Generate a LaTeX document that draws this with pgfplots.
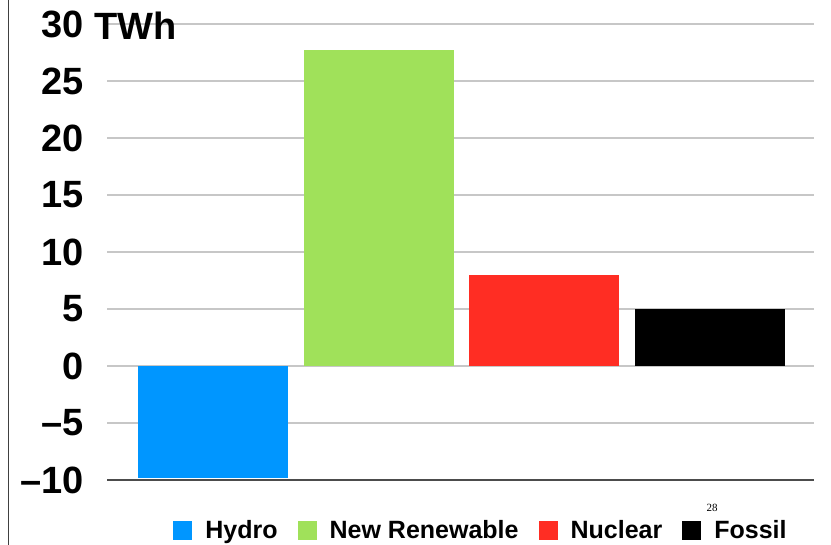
\documentclass[border=0pt]{standalone}
\usepackage{fontspec}
\setmainfont{Liberation Sans}
\newfontfamily\serif{Liberation Serif}
\usepackage{pgfplots}
\pgfplotsset{compat=1.18}
\definecolor{hydro}{RGB}{0,150,255}
\definecolor{newren}{RGB}{160,225,90}
\definecolor{nuclear}{RGB}{255,45,35}

\begin{document}
\begin{tikzpicture}
\path[use as bounding box] (0,0) rectangle (831pt,545pt);
\draw[black!75, line width=1pt] (8.5pt,0) -- (8.5pt,545pt);
\begin{axis}[
  at={(107pt,65pt)}, anchor=south west,
  scale only axis, width=707pt, height=456pt,
  xmin=-0.64, xmax=3.63, ymin=-10, ymax=30,
  axis x line*=bottom, axis y line*=left,
  x axis line style={black!70, line width=1.2pt, -},
  y axis line style={draw=none},
  xtick=\empty,
  ytick={-10,-5,...,30},
  yticklabels={–10,–5,0,5,10,15,20,25,30},
  ymajorgrids, major grid style={black!22, line width=1.2pt},
  major tick length=0pt,
  yticklabel style={font=\fontsize{38}{38}\selectfont\bfseries, inner sep=0pt, xshift=-23pt},
  ybar, bar width=150pt,
  legend columns=4,
  legend image code/.code={\fill[#1] (0pt,-9.5pt) rectangle (19pt,9.5pt);},
  legend style={at={(0.529,-0.11)}, anchor=center, draw=none, fill=none,
    font=\fontsize{25}{25}\selectfont\bfseries,
    /tikz/every odd column/.append style={column sep=11pt},
    /tikz/every even column/.append style={column sep=18pt}},
]
\addplot[fill=hydro, draw=none, bar shift=0pt] coordinates {(0,-9.8)};
\addplot[fill=newren, draw=none, bar shift=0pt] coordinates {(1,27.7)};
\addplot[fill=nuclear, draw=none, bar shift=0pt] coordinates {(2,8.0)};
\addplot[fill=black, draw=none, bar shift=0pt] coordinates {(3,5.0)};
\legend{Hydro, New Renewable, Nuclear, Fossil}
\end{axis}
\node[anchor=base west, inner sep=0pt, font=\fontsize{38}{38}\selectfont\bfseries] at (94pt,505pt) {TWh};
\node[font=\serif\fontsize{11}{11}\selectfont] at (712pt,37pt) {28};
\end{tikzpicture}
\end{document}
